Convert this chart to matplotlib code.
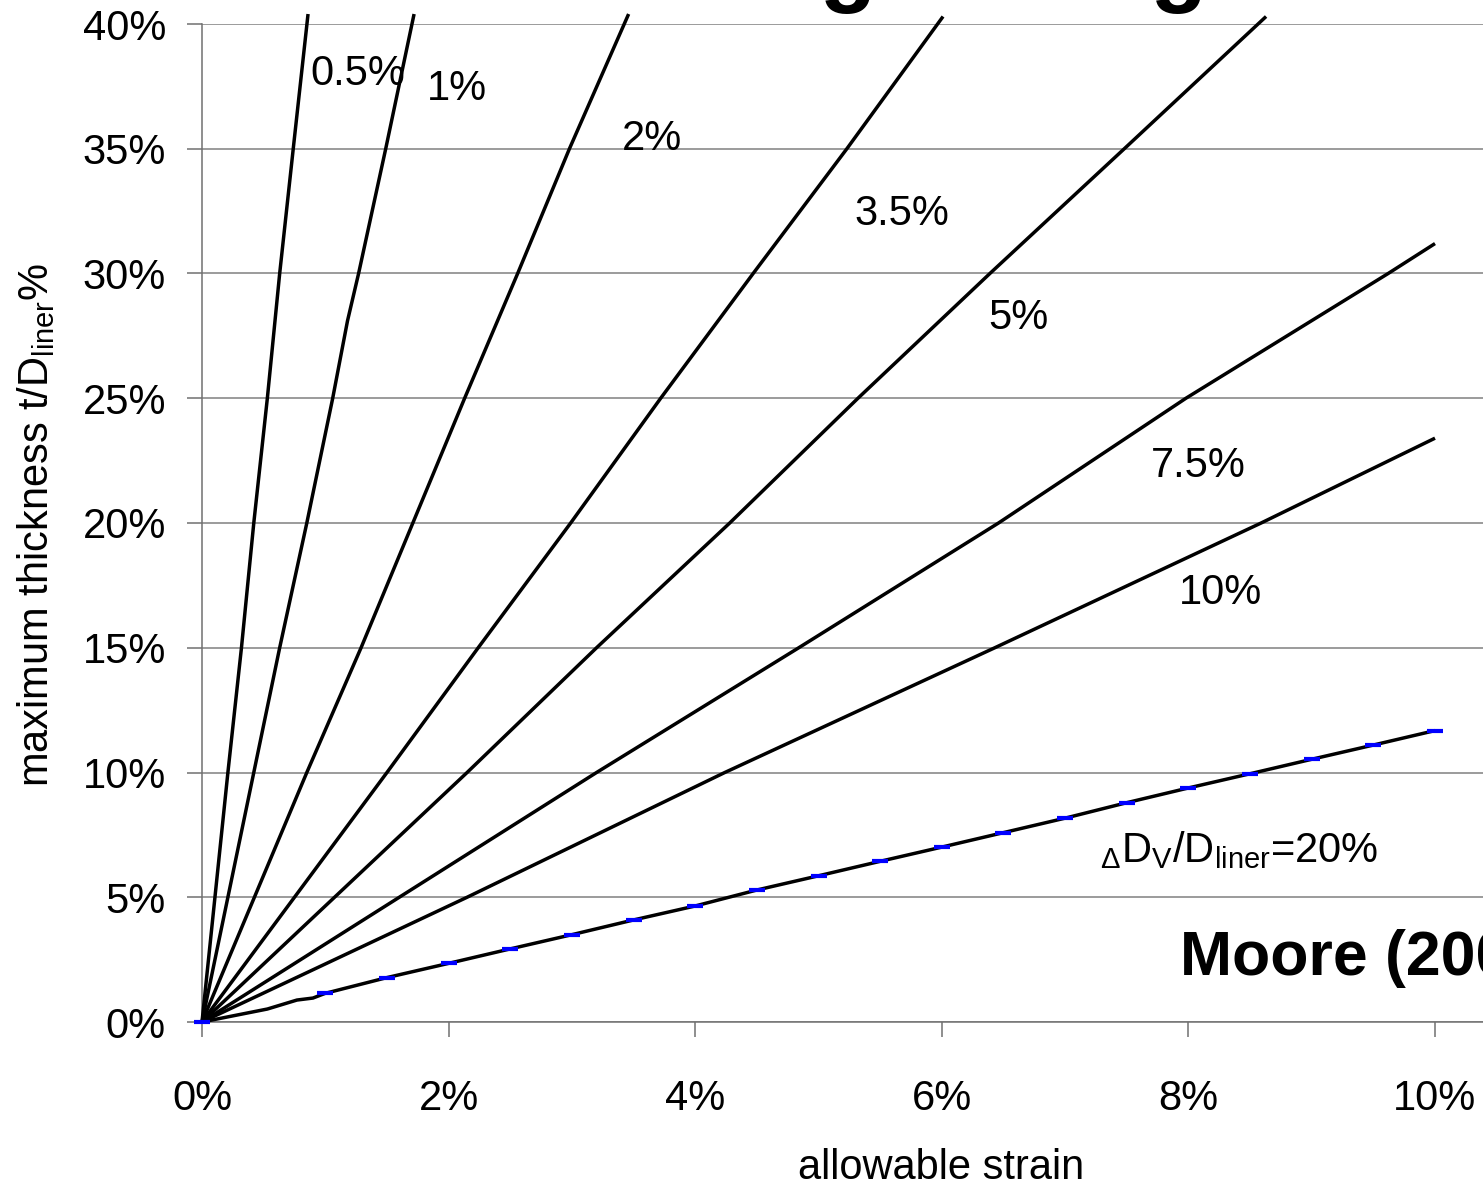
import matplotlib
matplotlib.use("Agg")
import matplotlib.pyplot as plt

plt.rcParams['font.family'] = ['Liberation Sans', 'DejaVu Sans']
plt.rcParams['mathtext.default'] = 'regular'

# curves: thickness t/D (%) vs allowable strain (%), one per ovality dV/D
x_05 = [0, 0.21, 0.32, 0.42, 0.53, 0.63, 0.74, 0.86]
y_05 = [0, 10, 15, 20, 25, 30, 35, 40.4]

x_1 = [0, 0.42, 0.63, 0.85, 1.06, 1.18, 1.27, 1.49, 1.72]
y_1 = [0, 10, 15, 20, 25, 28.1, 30, 35, 40.4]

x_2 = [0, 0.85, 1.29, 1.71, 2.13, 2.56, 2.98, 3.46]
y_2 = [0, 10, 15, 20, 25, 30, 35, 40.4]

x_35 = [0, 1.50, 2.24, 2.99, 3.72, 4.47, 5.23, 6.01]
y_35 = [0, 10, 15, 20, 25, 30, 35, 40.3]

x_5 = [0, 2.15, 3.20, 4.28, 5.32, 6.39, 7.48, 8.63]
y_5 = [0, 10, 15, 20, 25, 30, 35, 40.3]

x_75 = [0, 3.20, 4.84, 6.46, 7.98, 9.62, 10.0]
y_75 = [0, 10, 15, 20, 25, 30, 31.2]

x_10 = [0, 2.15, 4.24, 6.43, 8.59, 10.0]
y_10 = [0, 5, 10, 15, 20, 23.4]

x_20 = [0, 0.53, 0.77, 0.90, 1.0, 1.5, 2.0, 2.5, 3.0, 3.5, 4.0, 4.5, 5.0, 5.5,
        6.0, 6.5, 7.0, 7.5, 8.0, 8.5, 9.0, 9.5, 10.0]
y_20 = [0, 0.52, 0.88, 0.96, 1.15, 1.78, 2.35, 2.93, 3.50, 4.09, 4.65, 5.29,
        5.86, 6.44, 7.01, 7.59, 8.17, 8.79, 9.38, 9.95, 10.53, 11.10, 11.68]
# points of the 20% series that carry a marker
mx_20 = [0, 1.0, 1.5, 2.0, 2.5, 3.0, 3.5, 4.0, 4.5, 5.0, 5.5, 6.0, 6.5, 7.0,
         7.5, 8.0, 8.5, 9.0, 9.5, 10.0]
my_20 = [0, 1.15, 1.78, 2.35, 2.93, 3.50, 4.09, 4.65, 5.29, 5.86, 6.44, 7.01,
         7.59, 8.17, 8.79, 9.38, 9.95, 10.53, 11.10, 11.68]

curves = [(x_05, y_05), (x_1, y_1), (x_2, y_2), (x_35, y_35), (x_5, y_5),
          (x_75, y_75), (x_10, y_10), (x_20, y_20)]

labels = ['0.5%', '1%', '2%', '3.5%', '5%', '7.5%', '10%']
label_x = [1.26, 2.07, 3.65, 5.68, 6.62, 8.08, 8.26]
label_y = [38.0, 37.4, 35.4, 32.4, 28.2, 22.3, 17.2]

xticks = [0, 2, 4, 6, 8, 10]
yticks = [0, 5, 10, 15, 20, 25, 30, 35, 40]

W, H = 1483, 1187
fig = plt.figure(figsize=(W / 100, H / 100), dpi=100)
ax = fig.add_axes([202 / W, (H - 1022) / H, (W - 202) / W, (1022 - 24) / H])

for xs, ys in curves:
    ax.plot(xs, ys, color='black', lw=2.5, clip_on=False, zorder=3,
            solid_capstyle='butt', solid_joinstyle='round')
ax.plot(mx_20, my_20, ls='none', marker='_', ms=11, mew=3, color='#0000ff',
        clip_on=False, zorder=4)

ax.set_xlim(0, (W - 202) / 123.3)
ax.set_ylim(0, 40)
ax.set_xticks(xticks)
ax.set_xticklabels([f'{v}%' for v in xticks])
ax.set_yticks(yticks)
ax.set_yticklabels([f'{v}%' for v in yticks])
ax.tick_params(axis='both', labelsize=30, direction='out', length=11,
               width=1.1, color='#707070')
ax.tick_params(axis='x', pad=30)
ax.tick_params(axis='y', pad=15)
ax.grid(axis='y', color='#808080', lw=1.1)
ax.set_axisbelow(True)
for s in ['top', 'right']:
    ax.spines[s].set_visible(False)
for s in ['left', 'bottom']:
    ax.spines[s].set_color('#707070')
    ax.spines[s].set_linewidth(1.1)

for t, lx, ly in zip(labels, label_x, label_y):
    ax.text(lx, ly, t, fontsize=30, ha='center', va='center')

ax.text(7.28, 6.41, r'$_{\Delta}$D$_{V}$/D$_{liner}$=20%', fontsize=30,
        ha='left', va='baseline')
ax.text(7.93, 1.88, 'Moore (2006)', fontsize=45, fontweight='bold',
        ha='left', va='baseline', clip_on=False)

fig.text(36 / W, 1 - 525 / H, r'maximum thickness t/D$_{liner}$%', fontsize=30,
         rotation=90, ha='center', va='center')
fig.text(941 / W, 1 - 1168 / H, 'allowable strain', fontsize=30,
         ha='center', va='center')

# title sits above the visible area, only descenders show
fig.text(623 / W, 1 + 5 / H, 'Design using Strain Limits', fontsize=67,
         fontweight='bold', ha='left', va='baseline')

fig.savefig('out.png', dpi=100)
